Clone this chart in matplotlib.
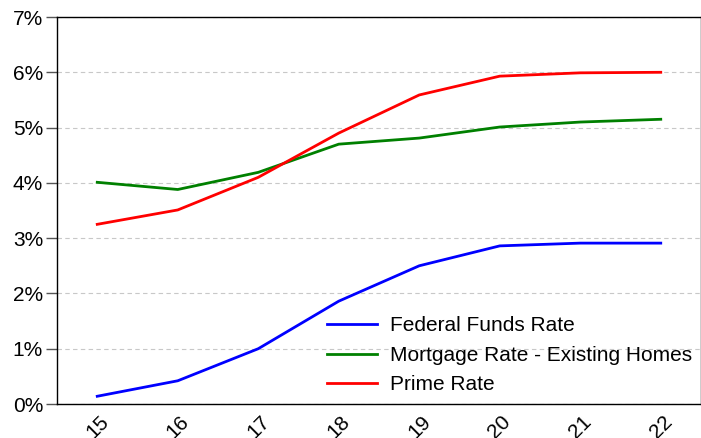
import matplotlib
matplotlib.use("Agg")
import matplotlib.pyplot as plt
from matplotlib.ticker import PercentFormatter

plt.rcParams['font.family'] = ['Liberation Sans', 'DejaVu Sans']

years = [15, 16, 17, 18, 19, 20, 21, 22]
fed_funds = [0.14, 0.42, 1.00, 1.86, 2.50, 2.86, 2.91, 2.91]
mortgage = [4.01, 3.88, 4.19, 4.70, 4.81, 5.01, 5.10, 5.15]
prime = [3.25, 3.51, 4.10, 4.90, 5.59, 5.93, 5.99, 6.00]

fig = plt.figure(figsize=(7.01, 4.38), dpi=100)
ax = fig.add_axes([57 / 701, 34 / 438, (701 - 57) / 701, (404 - 17) / 438])

ax.plot(years, fed_funds, color="#0000ff", lw=2, label="Federal Funds Rate")
ax.plot(years, mortgage, color="#008000", lw=2, label="Mortgage Rate - Existing Homes")
ax.plot(years, prime, color="#ff0000", lw=2, label="Prime Rate")

ax.set_xlim(14.5, 22.5)
ax.set_ylim(0, 7)
ax.set_xticks(years)
ax.set_xticklabels([str(y) for y in years], rotation=45, ha="center", fontsize=15)
ax.tick_params(axis="x", length=0, pad=6)
ax.set_yticks(range(0, 8))
ax.yaxis.set_major_formatter(PercentFormatter(decimals=0))
ax.tick_params(axis="y", length=8, width=1, labelsize=15, pad=2, color="#555555")
ax.grid(axis="y", ls=(0, (4, 3)), color="#c8c8c8", lw=0.8)
ax.set_axisbelow(True)
for s in ax.spines.values():
    s.set_linewidth(1)

ax.legend(loc="lower right", bbox_to_anchor=(1.008, -0.01), frameon=False, fontsize=15,
          handlelength=2.4, handletextpad=0.65, labelspacing=0.5, borderaxespad=0.25)

fig.savefig("out.png", dpi=100)
